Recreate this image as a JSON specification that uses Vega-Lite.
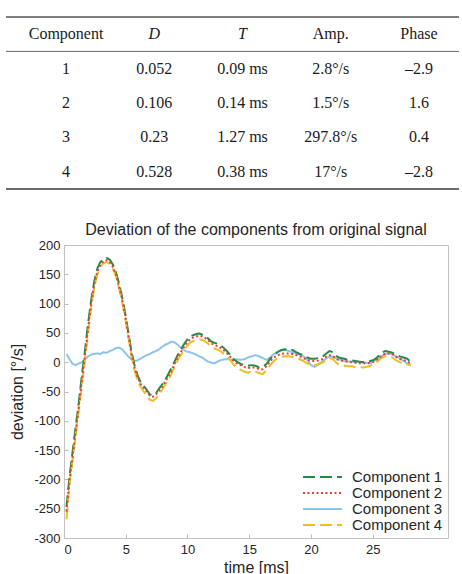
{
  "$schema": "https://vega.github.io/schema/vega-lite/v6.json",
  "padding": {"left": 5, "top": 16, "right": 0, "bottom": 0},
  "spacing": 56,
  "bounds": "flush",
  "resolve": {"legend": {"color": "independent", "strokeDash": "independent"}},
  "config": {
    "font": "Liberation Sans",
    "view": {"stroke": null},
    "legend": {
      "orient": "bottom-right",
      "offset": 5,
      "padding": 0,
      "labelFont": "Liberation Sans",
      "labelFontSize": 15,
      "labelColor": "#262626",
      "symbolType": "stroke",
      "symbolSize": 1521,
      "symbolStrokeWidth": 2,
      "labelOffset": 9,
      "clipHeight": 14,
      "rowPadding": 1
    }
  },
  "vconcat": [
    {
      "width": 453,
      "height": 172,
      "view": {"stroke": null},
      "encoding": {
        "x": {
          "field": "col",
          "type": "nominal",
          "scale": {"type": "point", "domain": ["Component", "D", "T", "Amp", "Phase"], "padding": 0.567, "align": 0.6},
          "axis": null
        }
      },
      "layer": [
        {
          "data": {
            "values": [
              {"row": "1", "Component": "1", "D": "0.052", "T": "0.09 ms", "Amp": "2.8°/s", "Phase": "–2.9"},
              {"row": "2", "Component": "2", "D": "0.106", "T": "0.14 ms", "Amp": "1.5°/s", "Phase": "1.6"},
              {"row": "3", "Component": "3", "D": "0.23", "T": "1.27 ms", "Amp": "297.8°/s", "Phase": "0.4"},
              {"row": "4", "Component": "4", "D": "0.528", "T": "0.38 ms", "Amp": "17°/s", "Phase": "–2.8"}
            ]
          },
          "transform": [{"fold": ["Component", "D", "T", "Amp", "Phase"], "as": ["col", "cell"]}],
          "mark": {"type": "text", "font": "Liberation Serif", "fontSize": 16, "color": "#1a1a1a", "baseline": "middle"},
          "encoding": {
            "y": {
              "field": "row",
              "type": "nominal",
              "scale": {"type": "band", "domain": ["head", "1", "2", "3", "4"], "paddingInner": 0, "paddingOuter": 0},
              "axis": null
            },
            "text": {"field": "cell"}
          }
        },
        {
          "data": {
            "values": [
              {"col": "Component", "head": "Component"},
              {"col": "Amp", "head": "Amp."},
              {"col": "Phase", "head": "Phase"}
            ]
          },
          "mark": {"type": "text", "font": "Liberation Serif", "fontSize": 16, "color": "#1a1a1a", "baseline": "middle"},
          "encoding": {
            "y": {"datum": "head", "type": "nominal"},
            "text": {"field": "head"}
          }
        },
        {
          "data": {
            "values": [
              {"col": "D", "head": "D"},
              {"col": "T", "head": "T"}
            ]
          },
          "mark": {"type": "text", "font": "Liberation Serif", "fontSize": 16, "fontStyle": "italic", "color": "#1a1a1a", "baseline": "middle"},
          "encoding": {
            "y": {"datum": "head", "type": "nominal"},
            "text": {"field": "head"}
          }
        },
        {
          "data": {"values": [{}]},
          "mark": {"type": "rule", "color": "#555555", "strokeWidth": 1.6},
          "encoding": {"y": {"datum": "head", "type": "nominal", "bandPosition": 0}, "x": null}
        },
        {
          "data": {"values": [{}]},
          "mark": {"type": "rule", "color": "#666666", "strokeWidth": 1},
          "encoding": {"y": {"datum": "head", "type": "nominal", "bandPosition": 1}, "x": null}
        },
        {
          "data": {"values": [{}]},
          "mark": {"type": "rule", "color": "#3a3a3a", "strokeWidth": 1.6},
          "encoding": {"y": {"datum": "4", "type": "nominal", "bandPosition": 1}, "x": null}
        }
      ]
    },
    {
      "bounds": "flush",
      "spacing": 0,
      "resolve": {"legend": {"color": "independent", "strokeDash": "independent"}},
      "hconcat": [
        {
          "width": 58,
          "height": 293,
          "view": {"stroke": null},
          "data": {"values": []},
          "mark": "point"
        },
        {
          "width": 384,
          "height": 293,
          "view": {"stroke": "#c4c4c4", "strokeWidth": 1},
          "title": {
            "text": "Deviation of the components from original signal",
            "font": "Liberation Sans",
            "fontSize": 16,
            "fontWeight": "normal",
            "color": "#262626",
            "baseline": "bottom",
            "offset": 2,
            "dy": 17
          },
          "data": {
            "values": [
              {"t": 0.2, "Component 1": -247, "Component 2": -255, "Component 3": 14, "Component 4": -268},
              {"t": 0.45, "Component 1": -195, "Component 2": -200, "Component 3": 5, "Component 4": -208},
              {"t": 0.7, "Component 1": -152, "Component 2": -160, "Component 3": -3, "Component 4": -167},
              {"t": 0.95, "Component 1": -110, "Component 2": -118, "Component 3": -5, "Component 4": -124},
              {"t": 1.2, "Component 1": -68, "Component 2": -75, "Component 3": -2, "Component 4": -82},
              {"t": 1.45, "Component 1": -22, "Component 2": -30, "Component 3": 0, "Component 4": -38},
              {"t": 1.7, "Component 1": 20, "Component 2": 12, "Component 3": 5, "Component 4": 4},
              {"t": 1.95, "Component 1": 66, "Component 2": 58, "Component 3": 10, "Component 4": 50},
              {"t": 2.2, "Component 1": 106, "Component 2": 100, "Component 3": 13, "Component 4": 93},
              {"t": 2.45, "Component 1": 138, "Component 2": 133, "Component 3": 14, "Component 4": 128},
              {"t": 2.7, "Component 1": 160, "Component 2": 155, "Component 3": 15, "Component 4": 150},
              {"t": 2.95, "Component 1": 171, "Component 2": 167, "Component 3": 14, "Component 4": 163},
              {"t": 3.2, "Component 1": 176, "Component 2": 172, "Component 3": 17, "Component 4": 169},
              {"t": 3.45, "Component 1": 178, "Component 2": 174, "Component 3": 16, "Component 4": 171},
              {"t": 3.7, "Component 1": 175, "Component 2": 171, "Component 3": 19, "Component 4": 168},
              {"t": 3.95, "Component 1": 167, "Component 2": 163, "Component 3": 21, "Component 4": 160},
              {"t": 4.2, "Component 1": 154, "Component 2": 150, "Component 3": 24, "Component 4": 147},
              {"t": 4.45, "Component 1": 135, "Component 2": 130, "Component 3": 25, "Component 4": 127},
              {"t": 4.7, "Component 1": 112, "Component 2": 108, "Component 3": 22, "Component 4": 104},
              {"t": 4.95, "Component 1": 84, "Component 2": 80, "Component 3": 16, "Component 4": 76},
              {"t": 5.2, "Component 1": 52, "Component 2": 48, "Component 3": 10, "Component 4": 44},
              {"t": 5.45, "Component 1": 20, "Component 2": 16, "Component 3": 5, "Component 4": 12},
              {"t": 5.7, "Component 1": -4, "Component 2": -8, "Component 3": 2, "Component 4": -13},
              {"t": 5.95, "Component 1": -22, "Component 2": -25, "Component 3": 3, "Component 4": -31},
              {"t": 6.2, "Component 1": -34, "Component 2": -37, "Component 3": 6, "Component 4": -42},
              {"t": 6.45, "Component 1": -40, "Component 2": -44, "Component 3": 9, "Component 4": -50},
              {"t": 6.7, "Component 1": -47, "Component 2": -50, "Component 3": 12, "Component 4": -57},
              {"t": 6.95, "Component 1": -55, "Component 2": -57, "Component 3": 14, "Component 4": -64},
              {"t": 7.2, "Component 1": -56, "Component 2": -59, "Component 3": 17, "Component 4": -66},
              {"t": 7.45, "Component 1": -53, "Component 2": -55, "Component 3": 19, "Component 4": -62},
              {"t": 7.7, "Component 1": -45, "Component 2": -49, "Component 3": 22, "Component 4": -55},
              {"t": 7.95, "Component 1": -38, "Component 2": -42, "Component 3": 26, "Component 4": -47},
              {"t": 8.2, "Component 1": -30, "Component 2": -33, "Component 3": 30, "Component 4": -38},
              {"t": 8.45, "Component 1": -20, "Component 2": -25, "Component 3": 32, "Component 4": -30},
              {"t": 8.7, "Component 1": -10, "Component 2": -15, "Component 3": 35, "Component 4": -20},
              {"t": 8.95, "Component 1": 1, "Component 2": -3, "Component 3": 34, "Component 4": -8},
              {"t": 9.2, "Component 1": 12, "Component 2": 8, "Component 3": 30, "Component 4": 3},
              {"t": 9.45, "Component 1": 21, "Component 2": 17, "Component 3": 25, "Component 4": 12},
              {"t": 9.7, "Component 1": 30, "Component 2": 25, "Component 3": 21, "Component 4": 20},
              {"t": 9.95, "Component 1": 38, "Component 2": 33, "Component 3": 18, "Component 4": 27},
              {"t": 10.2, "Component 1": 44, "Component 2": 39, "Component 3": 17, "Component 4": 33},
              {"t": 10.45, "Component 1": 46, "Component 2": 42, "Component 3": 15, "Component 4": 36},
              {"t": 10.7, "Component 1": 48, "Component 2": 44, "Component 3": 13, "Component 4": 38},
              {"t": 10.95, "Component 1": 49, "Component 2": 45, "Component 3": 10, "Component 4": 39},
              {"t": 11.2, "Component 1": 47, "Component 2": 44, "Component 3": 8, "Component 4": 38},
              {"t": 11.45, "Component 1": 44, "Component 2": 41, "Component 3": 4, "Component 4": 35},
              {"t": 11.7, "Component 1": 40, "Component 2": 37, "Component 3": 1, "Component 4": 31},
              {"t": 11.95, "Component 1": 35, "Component 2": 32, "Component 3": -1, "Component 4": 26},
              {"t": 12.2, "Component 1": 33, "Component 2": 29, "Component 3": -2, "Component 4": 23},
              {"t": 12.5, "Component 1": 31, "Component 2": 27, "Component 3": 2, "Component 4": 21},
              {"t": 12.8, "Component 1": 27, "Component 2": 23, "Component 3": 4, "Component 4": 17},
              {"t": 13.1, "Component 1": 21, "Component 2": 17, "Component 3": 5, "Component 4": 11},
              {"t": 13.4, "Component 1": 14, "Component 2": 11, "Component 3": 5, "Component 4": 5},
              {"t": 13.7, "Component 1": 6, "Component 2": 3, "Component 3": 4, "Component 4": -3},
              {"t": 14.0, "Component 1": 1, "Component 2": -2, "Component 3": 5, "Component 4": -9},
              {"t": 14.3, "Component 1": -3, "Component 2": -5, "Component 3": 4, "Component 4": -13},
              {"t": 14.6, "Component 1": -5, "Component 2": -8, "Component 3": 5, "Component 4": -16},
              {"t": 14.9, "Component 1": -6, "Component 2": -10, "Component 3": 8, "Component 4": -18},
              {"t": 15.2, "Component 1": -5, "Component 2": -9, "Component 3": 10, "Component 4": -15},
              {"t": 15.5, "Component 1": -6, "Component 2": -9, "Component 3": 12, "Component 4": -16},
              {"t": 15.8, "Component 1": -9, "Component 2": -12, "Component 3": 10, "Component 4": -19},
              {"t": 16.1, "Component 1": -8, "Component 2": -12, "Component 3": 7, "Component 4": -20},
              {"t": 16.4, "Component 1": -3, "Component 2": -7, "Component 3": 4, "Component 4": -14},
              {"t": 16.7, "Component 1": 6, "Component 2": 2, "Component 3": 8, "Component 4": -5},
              {"t": 17.0, "Component 1": 12, "Component 2": 8, "Component 3": 14, "Component 4": 2},
              {"t": 17.3, "Component 1": 17, "Component 2": 12, "Component 3": 18, "Component 4": 7},
              {"t": 17.6, "Component 1": 21, "Component 2": 14, "Component 3": 20, "Component 4": 9},
              {"t": 17.9, "Component 1": 22, "Component 2": 15, "Component 3": 21, "Component 4": 10},
              {"t": 18.2, "Component 1": 20, "Component 2": 15, "Component 3": 19, "Component 4": 10},
              {"t": 18.5, "Component 1": 21, "Component 2": 14, "Component 3": 17, "Component 4": 9},
              {"t": 18.8, "Component 1": 17, "Component 2": 12, "Component 3": 15, "Component 4": 7},
              {"t": 19.1, "Component 1": 14, "Component 2": 10, "Component 3": 13, "Component 4": 5},
              {"t": 19.4, "Component 1": 12, "Component 2": 7, "Component 3": 10, "Component 4": 2},
              {"t": 19.7, "Component 1": 8, "Component 2": 4, "Component 3": 4, "Component 4": -2},
              {"t": 20.0, "Component 1": 6, "Component 2": 2, "Component 3": -5, "Component 4": -5},
              {"t": 20.3, "Component 1": 6, "Component 2": 2, "Component 3": -8, "Component 4": -5},
              {"t": 20.6, "Component 1": 7, "Component 2": 3, "Component 3": -4, "Component 4": -3},
              {"t": 20.9, "Component 1": 9, "Component 2": 5, "Component 3": 1, "Component 4": -1},
              {"t": 21.2, "Component 1": 14, "Component 2": 9, "Component 3": 6, "Component 4": 3},
              {"t": 21.5, "Component 1": 19, "Component 2": 12, "Component 3": 10, "Component 4": 7},
              {"t": 21.8, "Component 1": 17, "Component 2": 10, "Component 3": 9, "Component 4": 5},
              {"t": 22.1, "Component 1": 10, "Component 2": 5, "Component 3": 6, "Component 4": -2},
              {"t": 22.4, "Component 1": 7, "Component 2": 3, "Component 3": 4, "Component 4": -5},
              {"t": 22.7, "Component 1": 6, "Component 2": 2, "Component 3": 2, "Component 4": -6},
              {"t": 23.0, "Component 1": 4, "Component 2": 1, "Component 3": 1, "Component 4": -7},
              {"t": 23.3, "Component 1": 3, "Component 2": 0, "Component 3": 1, "Component 4": -7},
              {"t": 23.6, "Component 1": 2, "Component 2": -1, "Component 3": 0, "Component 4": -8},
              {"t": 23.9, "Component 1": 1, "Component 2": -2, "Component 3": 1, "Component 4": -8},
              {"t": 24.2, "Component 1": 0, "Component 2": -2, "Component 3": 0, "Component 4": -9},
              {"t": 24.5, "Component 1": 1, "Component 2": -2, "Component 3": -1, "Component 4": -8},
              {"t": 24.8, "Component 1": 2, "Component 2": -1, "Component 3": -2, "Component 4": -6},
              {"t": 25.1, "Component 1": 4, "Component 2": 1, "Component 3": 2, "Component 4": -3},
              {"t": 25.4, "Component 1": 9, "Component 2": 5, "Component 3": 6, "Component 4": 1},
              {"t": 25.7, "Component 1": 16, "Component 2": 11, "Component 3": 10, "Component 4": 7},
              {"t": 26.0, "Component 1": 19, "Component 2": 14, "Component 3": 14, "Component 4": 10},
              {"t": 26.3, "Component 1": 18, "Component 2": 15, "Component 3": 15, "Component 4": 10},
              {"t": 26.6, "Component 1": 16, "Component 2": 14, "Component 3": 13, "Component 4": 8},
              {"t": 26.9, "Component 1": 13, "Component 2": 9, "Component 3": 10, "Component 4": 3},
              {"t": 27.2, "Component 1": 10, "Component 2": 6, "Component 3": 6, "Component 4": 0},
              {"t": 27.5, "Component 1": 8, "Component 2": 4, "Component 3": 2, "Component 4": -2},
              {"t": 27.8, "Component 1": 6, "Component 2": 1, "Component 3": -2, "Component 4": -4},
              {"t": 28.1, "Component 1": 0, "Component 2": -2, "Component 3": -5, "Component 4": -5}
            ]
          },
          "transform": [
            {"fold": ["Component 3", "Component 1", "Component 4", "Component 2"], "as": ["series", "dev"]}
          ],
          "mark": {"type": "line", "strokeWidth": 2, "strokeJoin": "round"},
          "encoding": {
            "x": {
              "field": "t",
              "type": "quantitative",
              "scale": {"domain": [0, 31.1], "nice": false, "zero": false},
              "axis": {
                "title": "time [ms]",
                "values": [0, 5, 10, 15, 20, 25],
                "format": "d",
                "domain": false,
                "grid": false,
                "ticks": true,
                "tickSize": -4,
                "tickColor": "#bdbdbd",
                "labelPadding": 9,
                "labelFont": "Liberation Sans",
                "labelFontSize": 13,
                "labelColor": "#262626",
                "titleFont": "Liberation Sans",
                "titleFontSize": 16,
                "titleFontWeight": "normal",
                "titleColor": "#262626",
                "titlePadding": 3
              }
            },
            "y": {
              "field": "dev",
              "type": "quantitative",
              "scale": {"domain": [-300, 200], "nice": false, "zero": false},
              "axis": {
                "title": "deviation [°/s]",
                "values": [-300, -250, -200, -150, -100, -50, 0, 50, 100, 150, 200],
                "format": "d",
                "labelExpr": "replace(datum.label, '\u2212', '-')",
                "domain": false,
                "grid": false,
                "ticks": true,
                "tickSize": -4,
                "tickColor": "#bdbdbd",
                "labelPadding": 8,
                "labelFont": "Liberation Sans",
                "labelFontSize": 13,
                "labelColor": "#262626",
                "titleFont": "Liberation Sans",
                "titleFontSize": 16,
                "titleFontWeight": "normal",
                "titleColor": "#262626",
                "titlePadding": 8
              }
            },
            "color": {
              "field": "series",
              "type": "nominal",
              "scale": {
                "domain": ["Component 1", "Component 2", "Component 3", "Component 4"],
                "range": ["#238b45", "#e2403c", "#8ec4e8", "#efbd25"]
              },
              "legend": {"title": null}
            },
            "strokeDash": {
              "field": "series",
              "type": "nominal",
              "scale": {
                "domain": ["Component 1", "Component 2", "Component 3", "Component 4"],
                "range": [[12, 5], [2, 2.5], [1, 0], [12, 5]]
              },
              "legend": {"title": null}
            }
          }
        }
      ]
    }
  ]
}
